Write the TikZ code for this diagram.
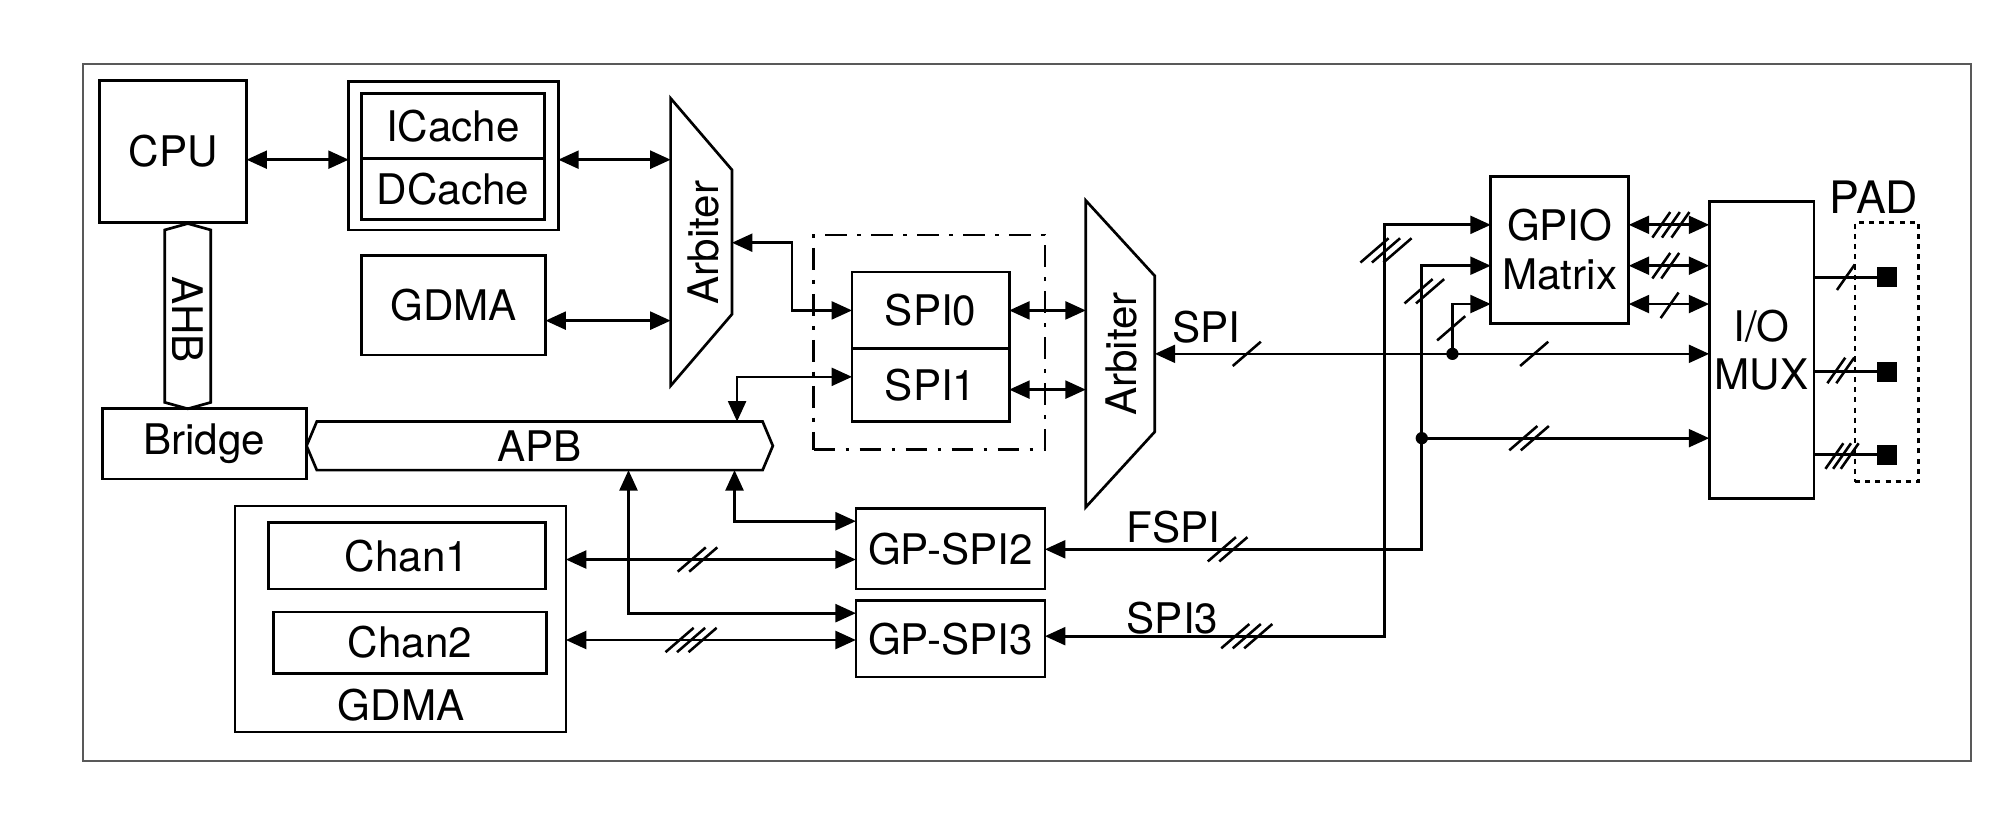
\documentclass[tikz,border=0pt]{standalone}
\usepackage{fontspec}
\setmainfont{TeX Gyre Heros}
\usetikzlibrary{arrows.meta}
\tikzset{
  txt/.style={font=\fontsize{16.5}{19}\selectfont, inner sep=0pt},
  box/.style={draw, line width=1.05pt, inner sep=0pt, outer sep=0pt, font=\fontsize{16.5}{19}\selectfont},
  dashdot/.style={dash pattern=on 8.5pt off 4pt on 1.5pt off 4pt},
  dottedbox/.style={dash pattern=on 2pt off 2pt},
  pad/.style={fill, draw, minimum size=6.6pt, inner sep=0pt, outer sep=0pt},
  darr/.style={{Triangle[length=8pt,width=7pt]}-{Triangle[length=8pt,width=7pt]}},
  arr/.style={-{Triangle[length=8pt,width=7pt]}},
  slash/.style={line width=1pt},
}
\newcommand\bx[7][]{\node[box,#1,minimum width={(#5-#3)*0.5pt},minimum height={(#6-#4)*0.5pt}] (#2) at ({(#3+#5)/2},{(#4+#6)/2}) {#7};}
\newcommand\slsh[6]{\foreach \k in {1,...,#3}{\draw[slash] ({#1+(\k-(#3+1)/2)*#6-#4},{#2+#5}) -- ++({2*#4},{-2*#5});}}
\begin{document}
\begin{tikzpicture}[x=0.5pt,y=-0.5pt,line width=1.05pt]
\useasboundingbox (0,0) rectangle (1568,638);
% frame
\bx[draw=black!65,line width=0.7pt]{frame}{65}{50}{1543}{596}{}
% left blocks
\bx{cpu}{78}{63}{193}{174}{CPU}
\bx{cache}{273}{64}{437}{180}{}
\bx{icache}{283}{73}{426}{124}{ICache}
\bx{dcache}{283}{124}{426}{172}{DCache}
\bx{gdmaa}{283}{200}{427}{278}{GDMA}
\bx{bridge}{80}{320}{240}{375}{Bridge}
% APB
\bx[draw=none]{apb}{248}{330}{597}{368}{APB}
\draw (apb.north west) -- (apb.north east) -- ([xshift=4pt]apb.east) -- (apb.south east)
  -- (apb.south west) -- ([xshift=-4pt]apb.west) -- cycle;
% AHB
\bx[draw=none]{ahb}{129}{180}{165}{315}{}
\draw (ahb.north west) -- ([yshift=2.5pt]ahb.north) -- (ahb.north east) -- (ahb.south east)
  -- ([yshift=-2.5pt]ahb.south) -- (ahb.south west) -- cycle;
\node[txt,rotate=-90] at (147,250) {AHB};
% Arbiter 1
\bx[draw=none]{arba}{525}{77}{573}{302}{}
\draw (arba.north west) -- ([yshift=-28pt]arba.north east) -- ([yshift=28pt]arba.south east)
  -- (arba.south west) -- cycle;
\node[txt,rotate=90] at (551,190) {Arbiter};
% Arbiter 2
\bx[draw=none]{arbb}{850}{157}{904}{397}{}
\draw (arbb.north west) -- ([yshift=-29.5pt]arbb.north east) -- ([yshift=29.5pt]arbb.south east)
  -- (arbb.south west) -- cycle;
\node[txt,rotate=90] at (878,277) {Arbiter};
% SPI0/1
\bx[dashdot]{spigrp}{637}{184}{818}{352}{}
\bx{spi0}{667}{213}{790}{273}{SPI0}
\bx{spi1}{667}{273}{790}{330}{SPI1}
% GDMA channels
\bx{gdmab}{184}{396}{443}{573}{}
\node[txt] at (314,552) {GDMA};
\bx{chan1}{210}{409}{427}{461}{Chan1}
\bx{chan2}{214}{479}{428}{527}{Chan2}
\bx{gpspi2}{670}{398}{818}{461}{GP-SPI2}
\bx{gpspi3}{670}{470}{818}{530}{GP-SPI3}
% right side
\bx[align=center]{gpio}{1167}{138}{1275}{253}{GPIO\\Matrix}
\bx[align=center]{mux}{1338}{158}{1420}{390}{I/O\\MUX}
\bx[dottedbox]{padbox}{1452}{174}{1502}{377}{}
\node[txt,font=\fontsize{17.5}{20}\selectfont] at (1467,154) {PAD};
\node[pad] (pad1) at (1477,217) {};
\node[pad] (pad2) at (1477,291) {};
\node[pad] (pad3) at (1477,356) {};
% connectors left
\draw[darr] (cpu.east |- 0,125) -- (cache.west |- 0,125);
\draw[darr] (cache.east |- 0,125) -- (arba.west |- 0,125);
\draw[darr] (gdmaa.east |- 0,251) -- (arba.west |- 0,251);
\draw[darr] (arba.east |- 0,190) -- ++(47,0) |- (spi0.west);
\draw[darr] (spi1.west |- 0,295) -| (577,0 |- apb.north);
\draw[darr] (575,0 |- apb.south) |- (gpspi2.west |- 0,408);
\draw[darr] (492,0 |- apb.south) |- (gpspi3.west |- 0,480);
\draw[darr] (gdmab.east |- 0,438) -- (gpspi2.west |- 0,438);
\draw[darr] (gdmab.east |- 0,501) -- (gpspi3.west |- 0,501);
\draw[darr] (spi0.east) -- (arbb.west |- spi0.east);
\draw[darr] (spi1.east |- 0,305) -- (arbb.west |- 0,305);
% connectors right
\draw[darr] (arbb.east |- 0,277) -- (mux.west |- 0,277);
\coordinate (j1) at (1137,277);
\coordinate (j2) at (1113,343);
\draw[arr] (j1) |- (gpio.west |- 0,238);
\draw[darr] (gpio.west |- 0,208) -| (1113,430) -- (gpspi2.east |- 0,430);
\draw[darr] (gpio.west |- 0,176) -| (1084,498) -- (gpspi3.east |- 0,498);
\draw[arr] (j2) -- (mux.west |- j2);
\fill (j1) circle[radius=2.4pt];
\fill (j2) circle[radius=2.4pt];
\foreach \y in {176,208,238}{\draw[darr] (gpio.east |- 0,\y) -- (mux.west |- 0,\y);}
\draw (mux.east |- pad1) -- (pad1.west);
\draw (mux.east |- pad2) -- (pad2.west);
\draw (mux.east |- pad3) -- (pad3.west);
% labels
\node[txt,anchor=base west] at (917,268) {SPI};
\node[txt,anchor=base west] at (881,425) {FSPI};
\node[txt,anchor=base west] at (881,496) {SPI3};
% bus-width slashes
\slsh{976}{277}{1}{11}{9.5}{9}
\slsh{1201}{277}{1}{11}{9.5}{9}
\slsh{1197}{343}{2}{11}{9.5}{9}
\slsh{961}{430}{2}{11}{9.5}{9}
\slsh{976}{498}{3}{11}{9.5}{9}
\slsh{546}{438}{2}{11}{9.5}{9}
\slsh{541}{501}{3}{11}{9.5}{9}
\slsh{1085}{196}{3}{11}{9.5}{9}
\slsh{1115}{228}{2}{11}{9.5}{9}
\slsh{1136}{257}{1}{11}{9.5}{9}
\slsh{1308}{176}{3}{7}{10}{7.5}
\slsh{1304}{208}{2}{7}{10}{7}
\slsh{1307}{239}{1}{7}{10}{7}
\slsh{1445}{217}{1}{7}{10}{6}
\slsh{1441}{290}{2}{7}{10}{7}
\slsh{1442}{357}{3}{7}{10}{6}
\end{tikzpicture}
\end{document}
